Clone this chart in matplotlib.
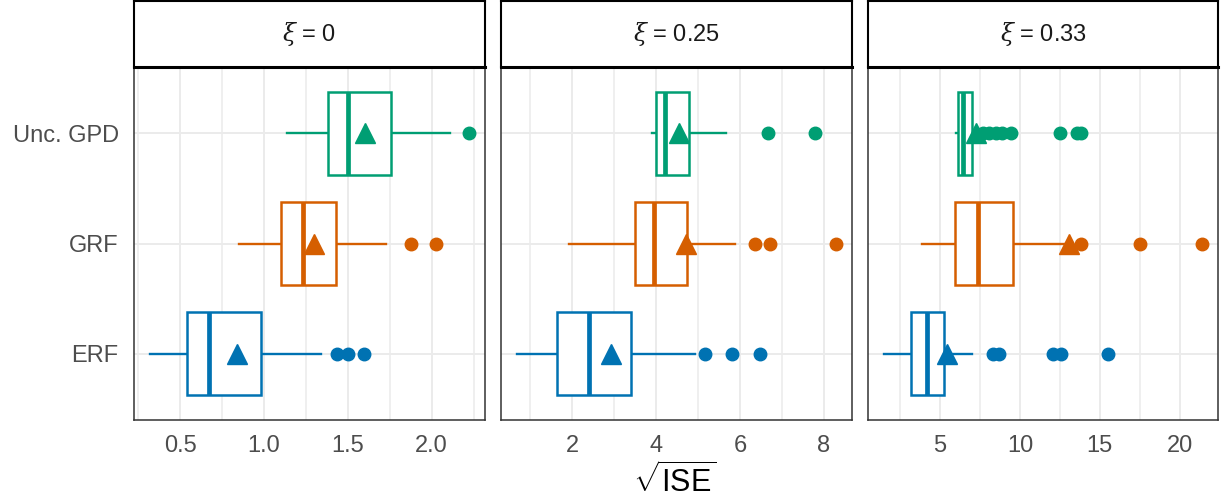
import matplotlib
matplotlib.use('Agg')
from matplotlib import pyplot as plt

plt.rcParams['font.family'] = ['Liberation Sans', 'DejaVu Sans']
plt.rcParams['mathtext.fontset'] = 'custom'
plt.rcParams['mathtext.rm'] = 'Liberation Sans'
plt.rcParams['mathtext.it'] = 'DejaVu Serif:italic'

# rows bottom to top
methods = ['ERF', 'GRF', 'Unc. GPD']
method_colors = ['#0072B2', '#D55E00', '#009E73']
panel_titles = [r'$\xi$ = 0', r'$\xi$ = 0.25', r'$\xi$ = 0.33']

# one inner list per panel, values for ERF, GRF, Unc. GPD
whislo = [[0.32, 0.85, 1.14], [0.69, 1.94, 3.90], [1.50, 3.90, 5.98]]
q1 = [[0.54, 1.10, 1.38], [1.64, 3.51, 4.00], [3.18, 5.96, 6.12]]
med = [[0.67, 1.23, 1.50], [2.40, 3.95, 4.21], [4.22, 7.41, 6.45]]
q3 = [[0.98, 1.43, 1.76], [3.41, 4.75, 4.78], [5.23, 9.59, 7.02]]
whishi = [[1.34, 1.73, 2.11], [4.92, 5.89, 5.67], [7.02, 12.9, 7.40]]
means = [[0.84, 1.30, 1.60], [2.94, 4.71, 4.54], [5.44, 13.05, 7.25]]
fliers = [
    [[1.435, 1.504, 1.596], [1.879, 2.024], [2.223]],
    [[5.17, 5.81, 6.47], [6.35, 6.72, 8.29], [6.66, 7.79]],
    [[8.31, 8.72, 12.05, 12.57, 15.53], [13.85, 17.5, 21.39],
     [7.7, 8.1, 8.5, 8.9, 9.45, 12.5, 13.6, 13.85]],
]
major_ticks = [[0.5, 1.0, 1.5, 2.0], [2, 4, 6, 8], [5, 10, 15, 20]]
tick_labels = [['0.5', '1.0', '1.5', '2.0'], ['2', '4', '6', '8'], ['5', '10', '15', '20']]
minor_ticks = [[0.25, 0.75, 1.25, 1.75, 2.25], [1, 3, 5, 7], [2.5, 7.5, 12.5, 17.5]]

W, H = 1226, 501
fig = plt.figure(figsize=(W / 100, H / 100), dpi=100)


def rect(x0, y0, x1, y1):
    # pixel box (top-left origin) -> figure fraction
    return [x0 / W, 1 - y1 / H, (x1 - x0) / W, (y1 - y0) / H]


panel_x = [(134, 485), (501, 852), (868, 1218)]
grid_col = '#EBEBEB'

for k, (x0, x1) in enumerate(panel_x):
    ax = fig.add_axes(rect(x0, 67, x1, 420))
    ax.set_facecolor('white')

    stats = []
    for j in range(3):
        stats.append(dict(whislo=whislo[k][j], q1=q1[k][j], med=med[k][j],
                          q3=q3[k][j], whishi=whishi[k][j],
                          fliers=fliers[k][j], label=methods[j]))
    art = ax.bxp(stats, positions=[1, 2, 3], widths=0.75, orientation='horizontal',
                 patch_artist=True, showcaps=False, showfliers=True)
    for j, c in enumerate(method_colors):
        art['boxes'][j].set(facecolor='white', edgecolor=c, linewidth=1.8, zorder=3)
        art['medians'][j].set(color=c, linewidth=3.4, zorder=4)
        art['whiskers'][2 * j].set(color=c, linewidth=1.7, zorder=2)
        art['whiskers'][2 * j + 1].set(color=c, linewidth=1.7, zorder=2)
        art['fliers'][j].set(marker='o', markerfacecolor=c, markeredgecolor=c,
                             markersize=9, zorder=4)
        ax.plot(means[k][j], j + 1, marker='^', markersize=14, color=c,
                linestyle='none', zorder=5)

    lo = min(whislo[k])
    hi = max(max(f) for f in fliers[k])
    span = hi - lo
    ax.set_xlim(lo - 0.05 * span, hi + 0.05 * span)
    ax.set_ylim(0.4, 3.6)

    ax.set_xticks(major_ticks[k])
    ax.set_xticklabels(tick_labels[k])
    ax.set_xticks(minor_ticks[k], minor=True)
    ax.set_yticks([1, 2, 3])
    if k == 0:
        ax.set_yticklabels(methods)
    else:
        ax.set_yticklabels([])
    ax.grid(which='major', color=grid_col, linewidth=1.4)
    ax.grid(which='minor', axis='x', color=grid_col, linewidth=1.1)
    ax.set_axisbelow(True)
    ax.tick_params(which='both', length=0, labelsize=17, labelcolor='#4D4D4D')
    ax.tick_params(axis='x', pad=11)
    ax.tick_params(axis='y', pad=11)
    for sp in ax.spines.values():
        sp.set_color('#333333')
        sp.set_linewidth(1.1)

    strip = fig.add_axes(rect(x0, 1, x1, 67))
    strip.set_xticks([])
    strip.set_yticks([])
    strip.set_facecolor('white')
    for sp in strip.spines.values():
        sp.set_color('black')
        sp.set_linewidth(1.5)
    strip.spines['bottom'].set_linewidth(2.2)
    strip.text(0.5, 0.5, panel_titles[k], transform=strip.transAxes,
               ha='center', va='center', fontsize=17, color='#1A1A1A')

fig.text(675 / W, 1 - 481 / H, r'$\sqrt{\mathrm{ISE}}$', ha='center', va='center',
         fontsize=22, color='black')

fig.savefig('out.png', dpi=100, facecolor='white')
